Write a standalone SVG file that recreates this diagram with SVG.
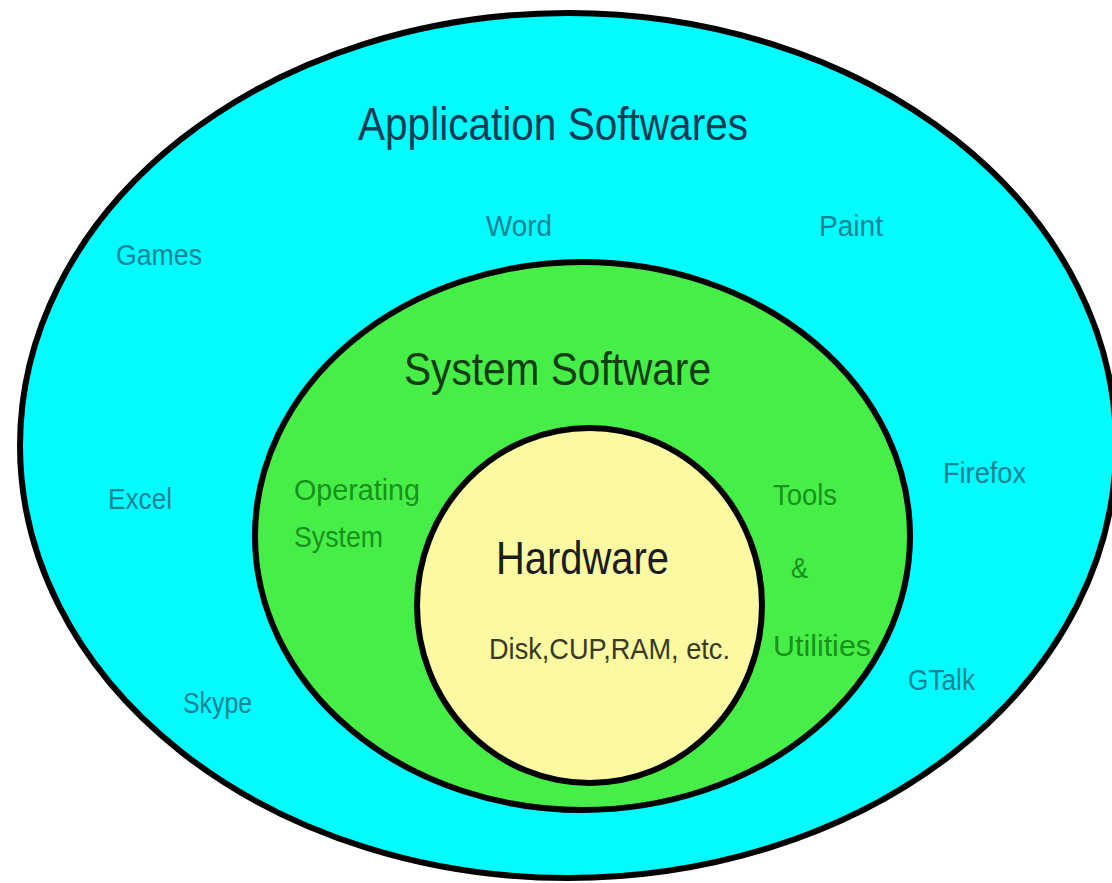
<svg xmlns="http://www.w3.org/2000/svg" width="1112" height="883" viewBox="0 0 1112 883">
  <style>
    .ring { stroke: #000; stroke-width: 6; }
    text { font-family: "Liberation Sans", Arial, sans-serif; }
    .title { font-size: 46px; }
    .app { font-size: 30px; fill: #128396; }
    .sys { font-size: 30px; fill: #17921a; }
    .hw { font-size: 29px; fill: #3a3a22; }
  </style>
  <rect width="1112" height="883" fill="#ffffff"/>
  <g id="application-softwares">
    <ellipse class="ring" cx="568" cy="445.5" rx="548" ry="432.5" fill="#00fcfc"/>
    <text class="title" x="358" y="140" textLength="390" lengthAdjust="spacingAndGlyphs" fill="#0d3a55">Application Softwares</text>
    <text class="app" x="116" y="265" textLength="86" lengthAdjust="spacingAndGlyphs">Games</text>
    <text class="app" x="486" y="236" textLength="66" lengthAdjust="spacingAndGlyphs">Word</text>
    <text class="app" x="819" y="236" textLength="64" lengthAdjust="spacingAndGlyphs">Paint</text>
    <text class="app" x="108" y="509" textLength="64" lengthAdjust="spacingAndGlyphs">Excel</text>
    <text class="app" x="943" y="483" textLength="83" lengthAdjust="spacingAndGlyphs">Firefox</text>
    <text class="app" x="183" y="713" textLength="69" lengthAdjust="spacingAndGlyphs">Skype</text>
    <text class="app" x="908" y="690" textLength="67" lengthAdjust="spacingAndGlyphs">GTalk</text>
  </g>
  <g id="system-software">
    <ellipse class="ring" cx="582.5" cy="536" rx="327.5" ry="274" fill="#48ee48"/>
    <text class="title" x="404" y="385" textLength="307" lengthAdjust="spacingAndGlyphs" fill="#0f3d0f">System Software</text>
    <text class="sys" x="294" y="500" textLength="126" lengthAdjust="spacingAndGlyphs">Operating</text>
    <text class="sys" x="294" y="547" textLength="89" lengthAdjust="spacingAndGlyphs">System</text>
    <text class="sys" x="773" y="505" textLength="64" lengthAdjust="spacingAndGlyphs">Tools</text>
    <text class="sys" x="791" y="578" textLength="17" lengthAdjust="spacingAndGlyphs">&amp;</text>
    <text class="sys" x="773" y="656" textLength="98" lengthAdjust="spacingAndGlyphs">Utilities</text>
  </g>
  <g id="hardware">
    <ellipse class="ring" cx="589.5" cy="605.5" rx="172.5" ry="177.5" fill="#fbf9a2"/>
    <text class="title" x="496" y="574" textLength="173" lengthAdjust="spacingAndGlyphs" fill="#1c1c1c">Hardware</text>
    <text class="hw" x="489" y="659" textLength="241" lengthAdjust="spacingAndGlyphs">Disk,CUP,RAM, etc.</text>
  </g>
  <g id="connectors"></g>
</svg>
